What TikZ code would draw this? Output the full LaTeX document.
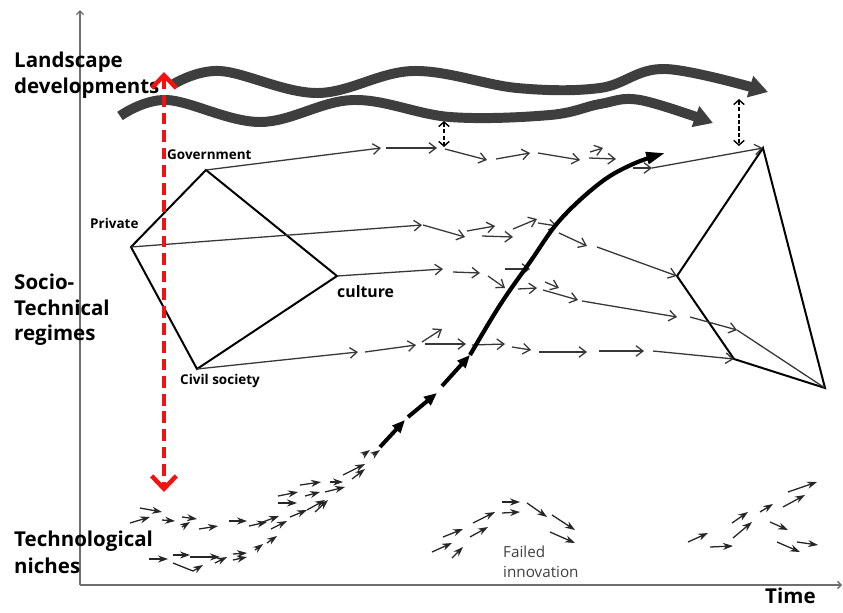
\documentclass[tikz,border=0pt]{standalone}
\usepackage{fontspec}
\setmainfont{Open Sans}
\usetikzlibrary{arrows,arrows.meta,calc}
\definecolor{axis_gray}{RGB}{110,110,110}
\definecolor{path_gray}{RGB}{55,55,55}
\definecolor{wave_gray}{RGB}{62,62,62}
\definecolor{dash_red}{RGB}{242,18,18}
\tikzstyle{vx}=[inner sep=0pt,minimum size=0pt]
\tikzstyle{ax}=[draw=axis_gray,line width=1.2pt,-{Straight Barb[length=3pt,width=6pt]}]
\tikzstyle{ed}=[draw=black,line width=1.7pt,line join=miter]
\tikzstyle{tr}=[draw=path_gray,line width=1.1pt,-{Straight Barb[length=6pt,width=9pt]}]
\tikzstyle{nc}=[draw=black!85,line width=1.1pt,-{Stealth[length=8.5pt,width=6pt]}]
\tikzstyle{wv}=[draw=wave_gray,line width=8.5pt,-{Triangle[length=16pt,width=18pt]}]
\tikzstyle{dbl}=[draw=black,line width=1.2pt,dash pattern=on 3.5pt off 2pt,{Straight Barb[length=4pt,width=9pt]}-{Straight Barb[length=4pt,width=9pt]}]
\tikzstyle{big}=[font=\fontsize{17.5}{23}\selectfont\bfseries,anchor=base west,inner sep=0pt]
\tikzstyle{sml}=[font=\fontsize{11.5}{14}\selectfont\bfseries,anchor=base west,inner sep=0pt]

\begin{document}
\begin{tikzpicture}[x=0.03cm,y=-0.03cm]
        \useasboundingbox[fill=white] (0,0) rectangle (843,612);
        % axes
        \coordinate (o) at (80,585);
        \coordinate (ytop) at (80,10);
        \coordinate (xend) at (842,585);
        \draw[ax] (o) -- (ytop);
        \draw[ax] (o) -- (xend);
        % level labels
        \node[big] (land1) at (14,67) {Landscape};
        \node[big] (land2) at (14,93) {developments};
        \node[big] (soc1) at (14,289) {Socio-};
        \node[big] (soc2) at (14,315) {Technical};
        \node[big] (soc3) at (14,340) {regimes};
        \node[big] (tech1) at (14,546) {Technological};
        \node[big] (tech2) at (14,573) {niches};
        \node[big] (time) at (765,603) {Time};
        % landscape waves
        \draw[wv] plot[smooth,tension=0.6] coordinates
          {(172,85) (220,71) (317,93) (413,71) (517,88) (600,88) (665,69) (768,92)};
        \draw[wv] plot[smooth,tension=0.6] coordinates
          {(120,116) (167,100) (260,122) (353,100) (450,117) (550,115) (600,104) (640,100) (713,123)};
        % regime before
        \node[vx] (gov) at (206,170) {};
        \node[vx] (prv) at (131,247) {};
        \node[vx] (cul) at (337,276) {};
        \node[vx] (civ) at (197,369) {};
        \draw[ed] (gov.center) -- (cul.center) -- (civ.center) -- (prv.center) -- cycle;
        \node[sml] (govl) at (167,159) {Government};
        \node[sml] (prvl) at (90,228) {Private};
        \node[sml,font=\fontsize{13.5}{16}\selectfont\bfseries] (cull) at (337,297) {culture};
        \node[sml] (civl) at (180,384) {Civil society};
        % regime after
        \node[vx] (rt) at (763,148) {};
        \node[vx] (rm) at (677,276) {};
        \node[vx] (rb) at (734,359) {};
        \node[vx] (rr) at (825,388) {};
        \draw[ed] (rt.center) -- (rm.center) -- (rb.center) -- (rr.center) -- cycle;
        % trajectories
        \coordinate (g1) at (381,148);
        \coordinate (p1) at (422,225);
        \coordinate (c1) at (443,269);
        \coordinate (s1) at (358,352);
        \coordinate (g9) at (652,168);
        \coordinate (c9) at (737,330);
        \draw[tr] (gov) -- (g1);
        \draw[tr] (prv) -- (p1);
        \draw[tr] (cul) -- (c1);
        \draw[tr] (civ) -- (s1);
        \foreach \xa/\ya/\xb/\yb in {386/148/437/148, 445/149/487/160, 496/159/530/153,
            538/153/580/160, 590/152/603/148, 589/158/616/159, 633/168/652/168,
            423/225/465/237, 467/231/495/226, 482/236/513/237, 513/229/537/219,
            538/223/557/226, 559/233/587/246,
            453/272/480/273, 488/276/505/288, 505/269/530/269, 518/289/537/288,
            545/282/559/288, 543/290/578/300, 582/301/677/317, 690/317/737/330,
            365/352/416/345, 422/342/442/329, 425/344/466/344, 472/345/505/344,
            512/347/531/350, 539/352/587/352, 599/351/644/351}
          \draw[tr] (\xa,\ya) -- (\xb,\yb);
        \draw[tr] (g9) -- (rt);
        \draw[tr] (597,247) -- (rm);
        \draw[tr] (653,351) -- (rb);
        \draw[draw=path_gray,line width=1.1pt] (c9) -- (rr);
        % landscape pressure
        \coordinate (d1a) at (444,121);
        \coordinate (d1b) at (444,147);
        \coordinate (d2a) at (739,99);
        \coordinate (d2b) at (739,146);
        \draw[dbl] (d1a) -- (d1b);
        \draw[dbl] (d2a) -- (d2b);
        \coordinate (rtop) at (164,72);
        \coordinate (rbot) at (164,492);
        \draw[draw=dash_red,line width=3.8pt,dash pattern=on 10pt off 5pt,
          {Straight Barb[length=11pt,width=21pt]}-{Straight Barb[length=11pt,width=21pt]}] (rtop) -- (rbot);
        % niche breakthrough
        \foreach \xa/\ya/\xb/\yb in {380/447/405/420, 408/417/437/393, 442/386/470/355}
          \draw[black,line width=3.4pt,-{Triangle[length=11pt,width=9pt]}] (\xa,\ya) -- (\xb,\yb);
        \draw[black,line width=3.6pt,-{Triangle[length=16pt,width=10pt]}] plot[smooth,tension=0.6] coordinates
          {(470,355) (500,305) (530,262) (560,220) (600,183) (633,164) (665,153)};
        % niches
        \foreach \xa/\ya/\xb/\yb in {140/508/162/512, 130/523/150/517, 162/520/175/521,
            182/517/197/519, 182/527/190/522, 199/529/218/526, 229/521/247/521,
            249/526/267/522, 260/523/279/516, 271/529/287/521, 278/496/298/492,
            278/503/297/503, 290/517/307/510, 300/485/321/482, 305/496/320/492,
            307/510/325/500, 315/512/328/500, 325/492/345/487, 330/482/343/482,
            343/475/365/464, 352/479/365/469, 363/455/370/450, 373/455/380/450,
            149/559/168/559, 173/555/190/555, 190/557/220/557, 215/563/227/557,
            233/554/247/553, 233/560/247/557, 255/550/263/544, 267/543/277/536}
          \draw[nc] (\xa,\ya) -- (\xb,\yb);
        \draw[nc] (173,563) -- (193,571) -- (203,565);
        % failed innovation
        \foreach \xa/\ya/\xb/\yb in {432/552/452/543, 443/537/463/529, 452/558/463/547,
            470/537/488/527, 473/523/495/512, 502/502/520/502, 502/513/520/512,
            527/503/547/517, 552/515/575/530, 550/532/575/543}
          \draw[nc] (\xa,\ya) -- (\xb,\yb);
        \node[anchor=base west,inner sep=0pt,text=black!75,font=\fontsize{13}{16}\selectfont] (fail1) at (503,557) {Failed};
        \node[anchor=base west,inner sep=0pt,text=black!75,font=\fontsize{13}{16}\selectfont] (fail2) at (503,577) {innovation};
        % new niches
        \foreach \xa/\ya/\xb/\yb in {688/542/708/533, 710/547/733/546, 732/523/748/512,
            733/538/752/522, 760/512/773/504, 783/507/805/495, 788/492/817/482,
            770/522/788/530, 777/542/800/552, 797/542/818/545}
          \draw[nc] (\xa,\ya) -- (\xb,\yb);
    \end{tikzpicture}
\end{document}
